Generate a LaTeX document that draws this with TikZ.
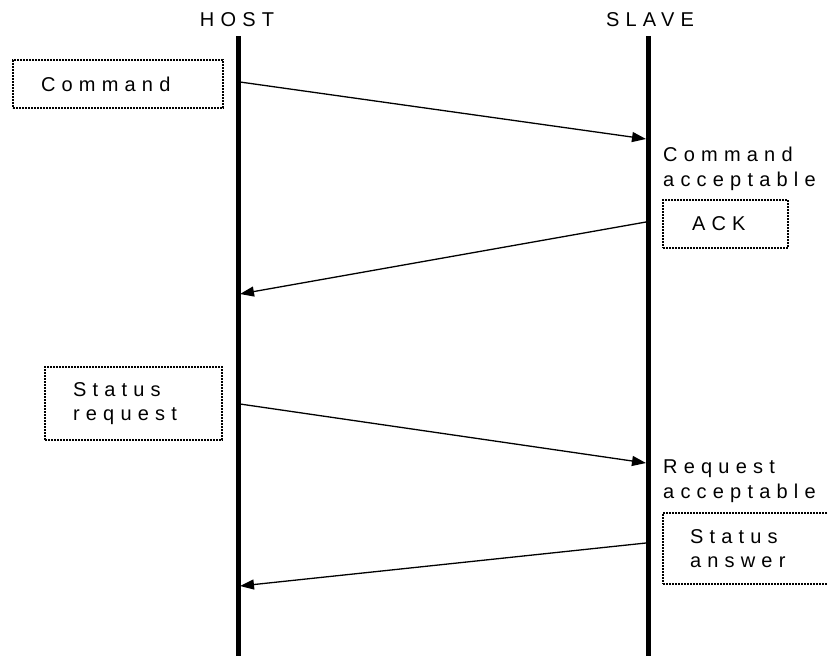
\documentclass[tikz,border=0pt]{standalone}
\usepackage{fontspec}
\setmainfont{Liberation Sans}[LetterSpace=31]
\usetikzlibrary{arrows.meta}

\tikzset{
    lifeline/.style={line width=5pt},
    msg/.style={line width=1.3pt, -{Triangle[length=14pt,width=10pt]}},
    lbl/.style={font=\fontsize{20}{24.5}\selectfont, inner sep=0pt},
    msgbox/.style={lbl, draw, line width=2.6pt, dash pattern=on 1.7pt off 1.3pt,
        align=left, anchor=north west, outer sep=0pt, inner ysep=0pt},
}

\begin{document}
\begin{tikzpicture}[x=1pt,y=-1pt]
    \useasboundingbox (0,0) rectangle (828,656);
    \clip (0,0) rectangle (828,656);
    % lifelines
    \foreach \x/\n in {238/host,648/slave}{
        \draw[lifeline] (\x,36) coordinate (\n-top) -- (\x,656) coordinate (\n-bot);
    }
    \node[lbl, anchor=base] (hostlbl) at (237,26) {HOST};
    \node[lbl, anchor=base] (slavelbl) at (650,26) {SLAVE};

    % boxes and notes
    \node[msgbox, text width=154pt, inner xsep=28pt, minimum height=48pt] (cmd) at (13,60) {Command};
    \node[lbl, anchor=north west, align=left] (cmdok) at (663,147) {Command\\acceptable};
    \node[msgbox, text width=67pt, inner xsep=29pt, minimum height=48pt] (ack) at (663,200) {ACK};
    \node[msgbox, text width=121pt, inner xsep=28pt, minimum height=73pt] (streq) at (45,367) {Status\\request};
    \node[lbl, anchor=north west, align=left] (reqok) at (663,460) {Request\\acceptable};
    \node[msgbox, text width=126pt, inner xsep=27pt, minimum height=71pt] (stans) at (663,513) {Status\\answer};

    % messages
    \foreach \i/\xa/\ya/\xb/\yb in {1/240/82/646/139, 2/646/222/240/294, 3/240/404/646/463, 4/646/543/240/586}{
        \coordinate (m\i-from) at (\xa,\ya);
        \coordinate (m\i-to) at (\xb,\yb);
        \draw[msg] (m\i-from) -- (m\i-to);
    }
\end{tikzpicture}
\end{document}
